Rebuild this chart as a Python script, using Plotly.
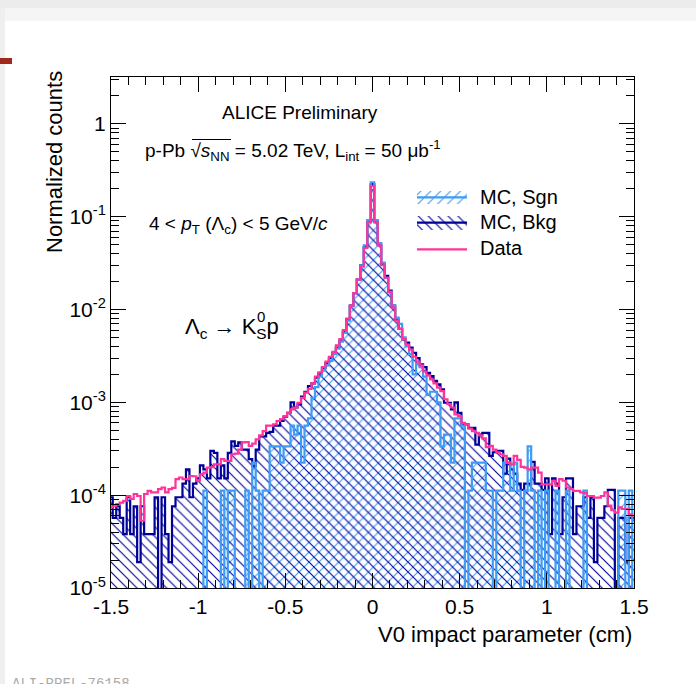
import plotly.graph_objects as go

# ---------------- data (bin centres from -1.5 to 1.5, width 0.02) ----------------
bin_first = -1.5
bin_width = 0.02
n_bins = 151
bin_centers = [round(bin_first + bin_width * i, 3) for i in range(n_bins)]

data_vals = [
    7.4e-5, 7.6e-5, 8.0e-5, 8.3e-5, 8.7e-5, 9.8e-5, 9.1e-5, 1.03e-4, 9.8e-5, 5.3e-5,
    1.03e-4, 1.11e-4, 1.07e-4, 1.07e-4, 1.16e-4, 1.21e-4, 1.07e-4, 1.16e-4, 1.20e-4, 1.49e-4,
    1.55e-4, 1.49e-4, 1.49e-4, 1.61e-4, 1.60e-4, 1.43e-4, 1.68e-4, 1.75e-4, 1.98e-4, 2.00e-4,
    2.15e-4, 2.15e-4, 2.44e-4, 2.34e-4, 2.34e-4, 2.76e-4, 2.80e-4, 3.10e-4, 3.70e-4, 3.74e-4,
    3.40e-4, 3.60e-4, 4.00e-4, 4.40e-4, 4.90e-4, 5.60e-4, 5.60e-4, 5.80e-4, 6.30e-4, 6.60e-4,
    7.10e-4, 7.70e-4, 8.40e-4, 8.80e-4, 9.90e-4, 1.12e-3, 1.27e-3, 1.40e-3, 1.60e-3, 1.90e-3,
    2.10e-3, 2.40e-3, 2.75e-3, 3.10e-3, 3.50e-3, 4.10e-3, 4.80e-3, 6.00e-3, 8.00e-3, 1.10e-2,
    1.50e-2, 2.10e-2, 2.90e-2, 4.60e-2, 8.70e-2, 0.215, 8.70e-2, 4.90e-2, 3.00e-2, 2.20e-2,
    1.55e-2, 1.05e-2, 7.60e-3, 6.20e-3, 4.80e-3, 4.20e-3, 3.70e-3, 3.10e-3, 2.75e-3, 2.50e-3,
    2.15e-3, 1.95e-3, 1.77e-3, 1.60e-3, 1.44e-3, 1.32e-3, 1.08e-3, 9.60e-4, 8.80e-4, 7.40e-4,
    7.10e-4, 6.00e-4, 5.80e-4, 5.20e-4, 4.90e-4, 4.70e-4, 4.40e-4, 4.10e-4, 3.30e-4, 3.40e-4,
    3.10e-4, 2.90e-4, 2.75e-4, 2.65e-4, 2.25e-4, 2.15e-4, 2.65e-4, 2.40e-4, 2.02e-4, 1.98e-4,
    1.90e-4, 1.98e-4, 1.98e-4, 1.75e-4, 1.31e-4, 1.31e-4, 1.31e-4, 1.43e-4, 1.26e-4, 1.49e-4,
    1.43e-4, 1.21e-4, 1.16e-4, 1.11e-4, 1.11e-4, 1.07e-4, 1.05e-4, 9.8e-5, 9.8e-5, 9.4e-5,
    9.4e-5, 9.8e-5, 1.07e-4, 7.7e-5, 6.9e-5, 6.5e-5, 7.4e-5, 7.1e-5, 7.1e-5, 6.2e-5,
    6.0e-5,
]

bkg_vals = [
    9.5e-5, 5.7e-5, 7.6e-5, 5.7e-5, 3.8e-5, 9.5e-5, 3.8e-5, 7.6e-5, 1.9e-5, 7.6e-5,
    3.8e-5, 3.8e-5, 3.8e-5, 9.5e-5, 0.0, 9.5e-5, 3.8e-5, 1.9e-5, 7.6e-5, 9.5e-5,
    9.5e-5, 1.33e-4, 1.9e-4, 9.5e-5, 1.33e-4, 1.52e-4, 2.09e-4, 1.9e-4, 1.52e-4, 3.0e-4,
    2.85e-4, 1.52e-4, 2.09e-4, 1.52e-4, 2.85e-4, 3.8e-4, 3.4e-4, 3.7e-4, 3.1e-4, 3.1e-4,
    2.44e-4, 2.07e-4, 3.1e-4, 4.3e-4, 4.3e-4, 4.7e-4, 4.8e-4, 5.6e-4, 5.6e-4, 6.3e-4,
    7.0e-4, 7.7e-4, 1.0e-3, 8.8e-4, 9.5e-4, 1.15e-3, 1.3e-3, 1.5e-3, 1.6e-3, 1.85e-3,
    2.05e-3, 2.35e-3, 2.65e-3, 3.0e-3, 3.4e-3, 3.9e-3, 4.6e-3, 5.8e-3, 7.9e-3, 1.1e-2,
    1.5e-2, 2.1e-2, 3.0e-2, 4.7e-2, 8.9e-2, 0.225, 9.0e-2, 5.0e-2, 3.1e-2, 2.3e-2,
    1.6e-2, 1.1e-2, 7.8e-3, 6.2e-3, 4.8e-3, 4.4e-3, 3.9e-3, 3.42e-3, 3.0e-3, 2.56e-3,
    2.4e-3, 2.08e-3, 1.92e-3, 1.7e-3, 1.56e-3, 1.38e-3, 9.9e-4, 9.9e-4, 8.4e-4, 1.0e-3,
    7.7e-4, 5.8e-4, 5.8e-4, 5.3e-4, 5.3e-4, 3.5e-4, 4.5e-4, 4.7e-4, 4.7e-4, 2.65e-4,
    2.9e-4, 3.0e-4, 3.0e-4, 1.71e-4, 2.47e-4, 1.9e-4, 1.71e-4, 1.33e-4, 1.14e-4, 1.33e-4,
    1.33e-4, 2.28e-4, 1.33e-4, 1.33e-4, 1.14e-4, 1.52e-4, 3.8e-5, 1.52e-4, 1.33e-4, 3.8e-5,
    9.5e-5, 1.52e-4, 1.52e-4, 3.8e-5, 7.6e-5, 7.6e-5, 9.5e-5, 5.7e-5, 9.5e-5, 1.9e-5,
    5.7e-5, 5.7e-5, 7.6e-5, 1.14e-4, 1.14e-4, 0.0, 5.7e-5, 5.7e-5, 1.9e-5, 5.7e-5,
    5.7e-5,
]

sgn_vals = [
    0, 0, 0, 0, 0, 0, 0, 0, 0, 0,
    0, 0, 0, 0, 0, 0, 0, 0, 0, 0,
    0, 0, 0, 0, 0, 0, 0, 1.12e-4, 0, 0,
    0, 0, 1.12e-4, 0, 1.12e-4, 1.12e-4, 0, 0, 0, 1.12e-4,
    0, 2.24e-4, 1.12e-4, 0, 1.12e-4, 1.12e-4, 3.36e-4, 3.36e-4, 3.36e-4, 2.24e-4,
    3.36e-4, 3.36e-4, 5.6e-4, 4.48e-4, 5.6e-4, 2.24e-4, 5.6e-4, 6.72e-4, 1.12e-3, 1.46e-3,
    1.9e-3, 2.2e-3, 2.5e-3, 2.8e-3, 3.3e-3, 3.8e-3, 4.5e-3, 5.6e-3, 7.6e-3, 1.08e-2,
    1.5e-2, 2.1e-2, 3.0e-2, 4.9e-2, 9.2e-2, 0.235, 9.2e-2, 5.2e-2, 3.2e-2, 2.2e-2,
    1.55e-2, 1.1e-2, 8.2e-3, 7.0e-3, 5.0e-3, 4.0e-3, 3.3e-3, 2.0e-3, 2.6e-3, 2.4e-3,
    1.9e-3, 1.2e-3, 1.3e-3, 1.3e-3, 1.0e-3, 3.36e-4, 4.48e-4, 4.48e-4, 2.24e-4, 6.72e-4,
    6.72e-4, 5.6e-4, 0, 1.12e-4, 2.24e-4, 2.24e-4, 2.24e-4, 2.24e-4, 1.12e-4, 1.12e-4,
    0, 1.12e-4, 1.12e-4, 2.24e-4, 2.24e-4, 1.12e-4, 2.24e-4, 1.12e-4, 0, 1.12e-4,
    3.36e-4, 1.12e-4, 0, 1.12e-4, 0, 1.12e-4, 0, 0, 1.12e-4, 0,
    0, 1.12e-4, 0, 0, 0, 0, 1.12e-4, 0, 0, 0,
    0, 0, 0, 0, 0, 0, 1.12e-4, 1.12e-4, 0, 1.12e-4,
    0,
]

y_tick_vals = [1e-5, 1e-4, 1e-3, 1e-2, 1e-1, 1]
y_tick_text = ["10<sup>-5</sup>", "10<sup>-4</sup>", "10<sup>-3</sup>",
               "10<sup>-2</sup>", "10<sup>-1</sup>", "1"]
x_tick_vals = [-1.5, -1, -0.5, 0, 0.5, 1, 1.5]
x_tick_text = ["-1.5", "-1", "-0.5", "0", "0.5", "1", "1.5"]

# ---------------- styles ----------------
SGN_COL = "#3d9cf5"
BKG_COL = "#000099"
DATA_COL = "#ff3399"
CLEAR = "rgba(0,0,0,0)"
FONT = "Liberation Sans"

W, H = 696, 684
ML, MR, MT, MB = 111, 62, 77, 96
PW, PH = W - ML - MR, H - MT - MB


def px(xp):
    return (xp - ML) / PW


def py(yp):
    return (H - MB - yp) / PH


def floor_zero(vals):
    return [v if v > 0 else 1e-9 for v in vals]


def hatch(shape, col):
    return dict(color=CLEAR, line=dict(width=0),
                pattern=dict(shape=shape, size=7, solidity=0.16, fgcolor=col,
                             bgcolor=CLEAR, fillmode="replace"))


fig = go.Figure()

# hatched fills
fig.add_trace(go.Bar(x=bin_centers, y=sgn_vals, width=bin_width, marker=hatch("/", SGN_COL),
                     showlegend=False, hoverinfo="skip"))
fig.add_trace(go.Bar(x=bin_centers, y=bkg_vals, width=bin_width, marker=hatch("\\", BKG_COL),
                     showlegend=False, hoverinfo="skip"))

# outlines
fig.add_trace(go.Scatter(
    x=bin_centers, y=floor_zero(bkg_vals), mode="lines", line_shape="hvh",
    line=dict(color=BKG_COL, width=2.2), showlegend=False, hoverinfo="skip"))
fig.add_trace(go.Scatter(
    x=bin_centers, y=floor_zero(sgn_vals), mode="lines", line_shape="hvh",
    line=dict(color=SGN_COL, width=2.2), showlegend=False, hoverinfo="skip"))
fig.add_trace(go.Scatter(
    x=bin_centers, y=floor_zero(data_vals), mode="lines", line_shape="hvh",
    line=dict(color=DATA_COL, width=2.2), showlegend=False, hoverinfo="skip"))

# ---------------- legend drawn on an overlay axis ----------------
fig.add_trace(go.Bar(x=[0.5], y=[13.3], base=[27], width=[1], xaxis="x2", yaxis="y2",
                     marker=hatch("/", SGN_COL), showlegend=False, hoverinfo="skip"))
fig.add_trace(go.Bar(x=[0.5], y=[14.3], base=[1], width=[1], xaxis="x2", yaxis="y2",
                     marker=hatch("\\", BKG_COL), showlegend=False, hoverinfo="skip"))
fig.add_trace(go.Scatter(x=[0, 1], y=[33.7, 33.7], xaxis="x2", yaxis="y2", mode="lines",
                         line=dict(color=SGN_COL, width=2.2), showlegend=False, hoverinfo="skip"))
fig.add_trace(go.Scatter(x=[0, 1], y=[8.3, 8.3], xaxis="x2", yaxis="y2", mode="lines",
                         line=dict(color=BKG_COL, width=2.2), showlegend=False, hoverinfo="skip"))
fig.add_trace(go.Scatter(x=[0, 1], y=[-18.3, -18.3], xaxis="x2", yaxis="y2", mode="lines",
                         line=dict(color=DATA_COL, width=2.2), showlegend=False, hoverinfo="skip"))

minor_y = [m * 10 ** e for e in range(-5, 1) for m in range(2, 10)]
minor_x = [round(-1.5 + 0.1 * k, 2) for k in range(31) if k % 5 != 0]

fig.update_layout(
    width=W, height=H,
    margin=dict(l=ML, r=MR, t=MT, b=MB),
    paper_bgcolor="white", plot_bgcolor="white",
    barmode="overlay", bargap=0,
    font=dict(family=FONT, color="black"),
    xaxis=dict(
        range=[-1.5, 1.5], showgrid=False, zeroline=False,
        showline=True, linecolor="black", linewidth=1, mirror="allticks",
        ticks="inside", ticklen=15, tickcolor="black", tickwidth=1,
        tickvals=x_tick_vals, ticktext=x_tick_text,
        tickfont=dict(size=21, family=FONT),
        minor=dict(ticks="inside", ticklen=8, tickcolor="black", tickwidth=1,
                   tickvals=minor_x, showgrid=False),
    ),
    yaxis=dict(
        type="log", range=[-5, 0.505], showgrid=False, zeroline=False,
        showline=True, linecolor="black", linewidth=1, mirror="allticks",
        ticks="inside", ticklen=15, tickcolor="black", tickwidth=1,
        tickvals=y_tick_vals, ticktext=y_tick_text,
        tickfont=dict(size=21, family=FONT),
        minor=dict(ticks="inside", ticklen=8, tickcolor="black", tickwidth=1,
                   tickvals=minor_y, showgrid=False),
    ),
    xaxis2=dict(domain=[px(417), px(467)], range=[0, 1], visible=False, anchor="y2", fixedrange=True),
    yaxis2=dict(domain=[py(255), py(185)], range=[-24, 46], visible=False, anchor="x2", fixedrange=True),
    showlegend=False,
)

shapes = [
    # slide decorations
    dict(type="rect", xref="paper", yref="paper", x0=px(0), x1=px(W), y0=py(8), y1=py(0),
         fillcolor="#ececec", line=dict(width=0), layer="below"),
    dict(type="rect", xref="paper", yref="paper", x0=px(0), x1=px(W), y0=py(21), y1=py(8),
         fillcolor="#f5f5f5", line=dict(width=0), layer="below"),
    dict(type="rect", xref="paper", yref="paper", x0=px(0), x1=px(5), y0=py(H), y1=py(8),
         fillcolor="#efefef", line=dict(width=0), layer="below"),
    dict(type="rect", xref="paper", yref="paper", x0=px(0), x1=px(12), y0=py(64), y1=py(58),
         fillcolor="#a3281c", line=dict(width=0), layer="above"),
    # overline of the square root
    dict(type="line", xref="paper", yref="paper", x0=px(192), x1=px(231), y0=py(139.5), y1=py(139.5),
         line=dict(color="black", width=1)),
]
fig.update_layout(shapes=shapes)

ann = []


def add_text(text, xp, yp, size, xanchor="left", yanchor="middle", color="black", family=FONT, angle=0):
    ann.append(dict(text=text, x=px(xp), y=py(yp), xref="paper", yref="paper",
                    xanchor=xanchor, yanchor=yanchor, showarrow=False, textangle=angle,
                    font=dict(size=size, color=color, family=family)))


add_text("ALICE Preliminary", 300, 112, 19, xanchor="center")
add_text("p-Pb \u221A<i>s</i><sub>NN</sub> = 5.02 TeV, L<sub>int</sub> = 50 \u03BCb<sup>-1</sup>",
         143, 150, 19)
add_text("4 < <i>p</i><sub>T</sub> (\u039B<sub>c</sub>) < 5 GeV/<i>c</i>", 147, 225, 19)
add_text("\u039B<sub>c</sub> \u2192 K<sub>S</sub>p", 183, 328, 22)
add_text("0", 255, 316, 15)
add_text("MC, Sgn", 478, 197, 20)
add_text("MC, Bkg", 478, 222, 20)
add_text("Data", 478, 248, 20)
add_text("Normalized counts", 54, 162, 22, xanchor="center", angle=-90)
add_text("V0 impact parameter (cm)", 634, 634, 22, xanchor="right")
add_text("ALI-PREL-76158", 10, 674, 14, yanchor="top", color="#aaaaaa", family="Liberation Mono")

fig.update_layout(annotations=ann)

fig.write_html("out.html")
